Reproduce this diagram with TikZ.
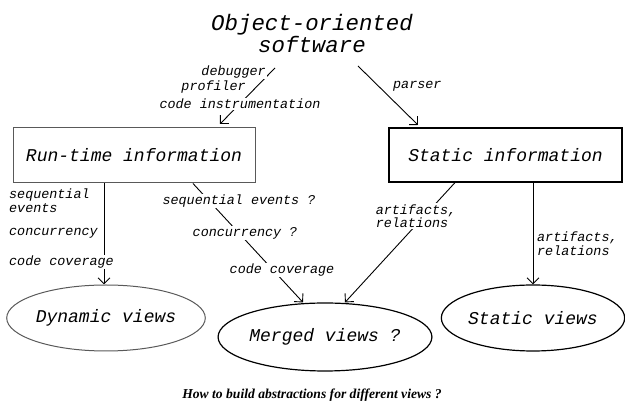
\documentclass[tikz,border=0pt]{standalone}
\usepackage{fontspec}
\setmainfont{Liberation Serif}
\newfontfamily\monoit{Liberation Mono}
\usetikzlibrary{arrows.meta,shapes.geometric}
\begin{document}
\begin{tikzpicture}[x=1pt,y=-1pt,
  arr/.style={line width=0.9pt,-{Straight Barb[length=6pt,width=12pt,line width=0.9pt]}},
  lbl/.style={font=\monoit\itshape\fontsize{13.4}{13.5}\selectfont, fill=white, inner sep=1pt, align=left},
  boxtxt/.style={font=\monoit\itshape\fontsize{18}{20}\selectfont},
  titletxt/.style={font=\monoit\itshape\fontsize{22.4}{22}\selectfont, align=center},
  infobox/.style={draw, line width=1.2pt, minimum width=233pt, minimum height=54pt, inner sep=0pt},
  viewell/.style={draw, ellipse, line width=1.2pt, inner sep=0pt},
  dimline/.style={draw=black!65}
]
\useasboundingbox (0,0) rectangle (625,411);

% title
\node[titletxt] (oo) at (312,33) {Object-oriented\\software};

% boxes
\node[infobox, boxtxt, dimline, line width=1pt, minimum width=242pt, minimum height=55pt] (rt) at (134,155.5) {Run-time information};
\node[infobox, boxtxt] (st) at (505.5,155) {Static information};

% ellipses
\node[viewell, boxtxt, dimline, line width=1pt, minimum width=184pt, minimum height=66pt] (dyn) at (106,318) {Dynamic views};
\node[viewell, boxtxt, minimum width=185pt, minimum height=68pt] (mer) at (325,337) {Merged views ?};
\node[viewell, boxtxt, minimum width=182pt, minimum height=66pt] (sv) at (533,318) {Static views};

% helper coordinates
\coordinate (dbgA) at (275,68);
\coordinate (dbgB) at (220,124);
\coordinate (parA) at (358,66);
\coordinate (parB) at (418,125);
\coordinate (xl) at (104,0);
\coordinate (xm1) at (193,0);
\coordinate (xm2) at (303,0);
\coordinate (xa1) at (455,0);
\coordinate (xa2) at (345,0);
\coordinate (xr) at (533,0);

% connectors
\draw[arr] (dbgA) -- (dbgB);
\draw[arr] (parA) -- (parB);
\draw[arr] (rt.south -| xl) -- (dyn.north -| xl);
\draw[arr] (rt.south -| xm1) -- (mer.north -| xm2);
\draw[arr] (st.south -| xa1) -- (mer.north -| xa2);
\draw[arr] (st.south -| xr) -- (sv.north -| xr);

% labels
\node[lbl, anchor=east] (lDbg) at (267,72) {debugger};
\node[lbl, anchor=east] (lProf) at (247,87) {profiler};
\node[lbl] (lCode) at (240,104) {code instrumentation};
\node[lbl, anchor=west] (lPar) at (392,86) {parser};

\node[lbl, anchor=west] (lSeq) at (8,200.5) {sequential\\events};
\node[lbl, anchor=west] (lConc) at (8,233) {concurrency};
\node[lbl, anchor=west] (lCov) at (8,262) {code coverage};

\node[lbl] (mSeq) at (239,201) {sequential events ?};
\node[lbl] (mConc) at (245,233) {concurrency ?};
\node[lbl] (mCov) at (282,270) {code coverage};

\node[lbl] (aRel1) at (416,216) {artifacts,\\relations};
\node[lbl, anchor=west] (aRel2) at (536,243.5) {artifacts,\\relations};

% caption
\node[font=\bfseries\itshape\fontsize{13.6}{15}\selectfont] (cap) at (312,395) {How to build abstractions for different views ?};
\end{tikzpicture}
\end{document}
